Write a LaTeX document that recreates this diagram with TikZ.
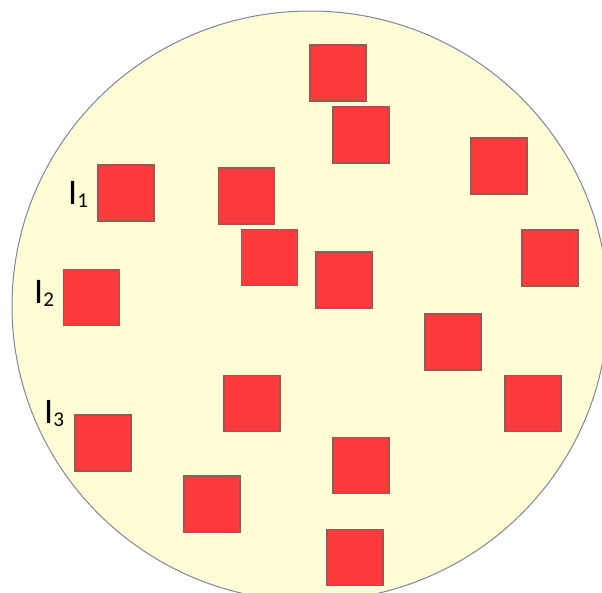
\documentclass[tikz,border=0pt]{standalone}
\usepackage{fontspec}
\setmainfont{Carlito}
\definecolor{diskfill}{RGB}{255,252,214}
\definecolor{diskedge}{RGB}{125,135,155}
\definecolor{cellfill}{RGB}{255,58,58}
\definecolor{celledge}{RGB}{160,85,85}
\tikzset{
  cell/.style={draw=celledge, fill=cellfill, line width=1.5pt, minimum size=56pt, inner sep=0pt},
  tag/.style={anchor=base west, inner sep=0pt, font=\fontsize{36}{40}\selectfont}
}
\newcommand{\tagsub}[1]{\raisebox{-3pt}{\fontsize{21}{24}\selectfont #1}}

\begin{document}
\begin{tikzpicture}[x=1pt, y=-1pt]
  \useasboundingbox (0,0) rectangle (602,592);
  \clip (0,0) rectangle (602,592);

  % Disk
  \draw[diskedge, fill=diskfill, line width=1pt] (310,306) ellipse (298 and 295);

  % Cells
  \foreach \n/\cx/\cy in {1/338/73, 2/361/135, 3/499/166, 4/126/193,
                          5/246.5/196, 6/269.5/257.5, 7/344/280, 8/550/258,
                          9/91.5/297.5, 10/453/342, 11/252/403.5, 12/533/403.5,
                          13/103/443, 14/361/465.5, 15/212/504, 16/355/557.5}
    \node[cell] (c\n) at (\cx,\cy) {};

  % Labels
  \node[tag] (l1) at (68,204) {I\tagsub{1}};
  \node[tag] (l2) at (34,303) {I\tagsub{2}};
  \node[tag] (l3) at (44,423) {I\tagsub{3}};
\end{tikzpicture}
\end{document}
